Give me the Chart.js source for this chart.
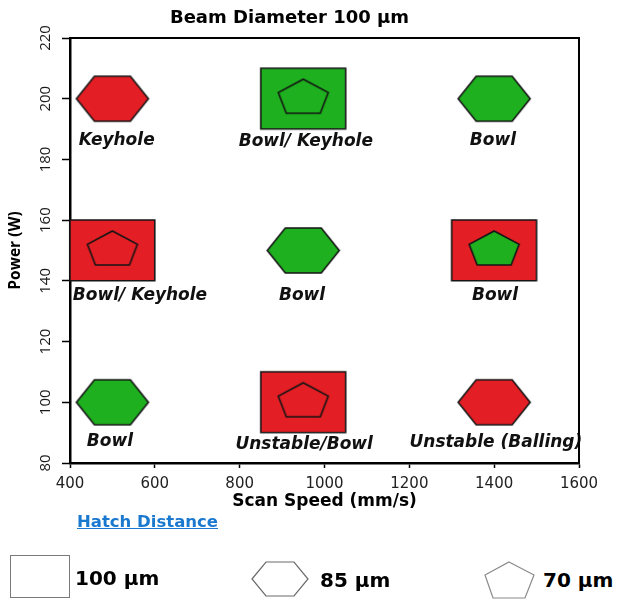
<!DOCTYPE html>
<html><head><meta charset="utf-8">
<script src="https://cdn.jsdelivr.net/npm/chart.js@4.4.0/dist/chart.umd.min.js"></script>
<style>
html,body{margin:0;padding:0;background:#fff;width:619px;height:601px;overflow:hidden;}
body{position:relative;}
#wrap{position:absolute;left:0;top:0;width:600px;height:520px;}
.leg{position:absolute;font-family:"DejaVu Sans";font-weight:bold;white-space:nowrap;line-height:1;}
svg{position:absolute;overflow:visible;}
</style></head><body>
<div id="wrap"><canvas id="c" width="600" height="520"></canvas></div>
<div class="leg" style="left:77px;top:514px;font-size:16.5px;color:#1a78cf;text-decoration:underline;">Hatch Distance</div>
<div style="position:absolute;left:10px;top:555px;width:58px;height:41px;border:1.5px solid #7a7a7a;"></div>
<div class="leg" style="left:75px;top:568px;font-size:20px;color:#000;">100 µm</div>
<svg style="left:251px;top:561px" width="58" height="37"><polygon points="1,18 15,1 43,1 57,18 43,35 15,35" fill="none" stroke="#6a6a6a" stroke-width="1.2"/></svg>
<div class="leg" style="left:320px;top:570px;font-size:20px;color:#000;">85 µm</div>
<svg style="left:484px;top:561px" width="51" height="38"><polygon points="25,1 50,14 41,37 9,37 1,14" fill="none" stroke="#8a8a8a" stroke-width="1.2"/></svg>
<div class="leg" style="left:543px;top:570px;font-size:20px;color:#000;">70 µm</div>
<script>
// ---- data ----
const xTickValues = [400, 600, 800, 1000, 1200, 1400, 1600];
const yTickValues = [80, 100, 120, 140, 160, 180, 200, 220];

// Hatch 100 µm (squares)
const squareSpeed   = [950, 500, 1400, 950];
const squarePower   = [200, 150, 150, 100];
const squareOutcome = ['good', 'bad', 'bad', 'bad'];
// Hatch 85 µm (hexagons)
const hexSpeed   = [500, 1400, 950, 500, 1400];
const hexPower   = [200, 200, 150, 100, 100];
const hexOutcome = ['bad', 'good', 'good', 'good', 'bad'];
// Hatch 70 µm (pentagons)
const pentSpeed   = [950, 500, 1400, 950];
const pentPower   = [200, 150, 150, 100];
const pentOutcome = ['good', 'bad', 'good', 'bad'];

// melt-pool regime labels
const regimeText  = ['Keyhole', 'Bowl/ Keyhole', 'Bowl', 'Bowl/ Keyhole', 'Bowl', 'Bowl', 'Bowl', 'Unstable/Bowl', 'Unstable (Balling)'];
const regimeSpeed = [510, 956, 1397, 565, 947, 1402, 494, 952, 1404];
const regimePower = [186.3, 185.8, 186.3, 135.3, 135.3, 135.3, 86.9, 86.2, 86.6];

// ---- styling ----
const COLORS = { good: '#1eb01e', bad: '#e31e24' };
const SQUARE_HALF_SPEED = 100, SQUARE_HALF_POWER = 10;
const cache = {};
function shape(kind, fill, w, h) {
  const key = kind + fill + Math.round(w) + 'x' + Math.round(h);
  if (cache[key]) return cache[key];
  const pad = 2;
  const extraBottom = kind === 'pent' ? 5 : 0;
  const cv = document.createElement('canvas');
  cv.width = Math.round(w + 2 * pad);
  cv.height = Math.round(h + 2 * pad + extraBottom);
  const c = cv.getContext('2d');
  c.translate(pad, pad);
  c.beginPath();
  if (kind === 'rect') {
    c.rect(0, 0, w, h);
  } else if (kind === 'hex') {
    const d = w * 0.25;
    c.moveTo(0, h / 2); c.lineTo(d, 0); c.lineTo(w - d, 0); c.lineTo(w, h / 2); c.lineTo(w - d, h); c.lineTo(d, h);
  } else {
    c.moveTo(w / 2, 0); c.lineTo(w, h * 0.39); c.lineTo(w * 0.84, h); c.lineTo(w * 0.16, h); c.lineTo(0, h * 0.39);
  }
  c.closePath();
  c.fillStyle = fill; c.fill();
  c.lineWidth = 1.6; c.strokeStyle = '#151515'; c.lineJoin = 'miter'; c.stroke();
  cache[key] = cv;
  return cv;
}
function pts(xs, ys) { return xs.map((x, i) => ({ x, y: ys[i] })); }

const regimeLabelPlugin = {
  id: 'regimeLabels',
  afterDatasetsDraw(chart) {
    const { ctx, scales: { x, y } } = chart;
    ctx.save();
    ctx.font = 'italic bold 17px "DejaVu Sans"';
    ctx.fillStyle = '#111';
    ctx.textAlign = 'center';
    ctx.textBaseline = 'middle';
    regimeText.forEach((t, i) => ctx.fillText(t, x.getPixelForValue(regimeSpeed[i]), y.getPixelForValue(regimePower[i])));
    ctx.restore();
  }
};
const framePlugin = {
  id: 'frame',
  afterDraw(chart) {
    const { ctx, chartArea: a } = chart;
    ctx.save();
    ctx.strokeStyle = '#000';
    ctx.lineWidth = 2;
    ctx.beginPath();
    ctx.moveTo(a.left, a.top); ctx.lineTo(a.right, a.top); ctx.lineTo(a.right, a.bottom);
    ctx.stroke();
    ctx.restore();
  }
};

new Chart(document.getElementById('c'), {
  type: 'scatter',
  data: {
    datasets: [
      {
        label: '100 µm', order: 3, clip: false,
        data: pts(squareSpeed, squarePower),
        pointRadius: 5, pointHoverRadius: 5,
        pointStyle: (ctx) => {
          const sx = ctx.chart.scales.x, sy = ctx.chart.scales.y;
          const v = ctx.raw || { x: 950, y: 150 };
          const w = Math.abs(sx.getPixelForValue(v.x + SQUARE_HALF_SPEED) - sx.getPixelForValue(v.x - SQUARE_HALF_SPEED));
          const h = Math.abs(sy.getPixelForValue(v.y + SQUARE_HALF_POWER) - sy.getPixelForValue(v.y - SQUARE_HALF_POWER));
          return shape('rect', COLORS[squareOutcome[ctx.dataIndex]], w, h);
        }
      },
      {
        label: '85 µm', order: 2, clip: false,
        data: pts(hexSpeed, hexPower),
        pointRadius: 5, pointHoverRadius: 5,
        pointStyle: (ctx) => shape('hex', COLORS[hexOutcome[ctx.dataIndex]], 72, 45)
      },
      {
        label: '70 µm', order: 1, clip: false,
        data: pts(pentSpeed, pentPower),
        pointRadius: 5, pointHoverRadius: 5,
        pointStyle: (ctx) => shape('pent', COLORS[pentOutcome[ctx.dataIndex]], 50, 34)
      }
    ]
  },
  options: {
    responsive: false,
    animation: false,
    events: [],
    layout: { padding: { left: 0, right: 21, top: 0, bottom: 8 } },
    plugins: {
      legend: { display: false },
      tooltip: { enabled: false },
      title: {
        display: true,
        text: 'Beam Diameter 100 µm',
        color: '#000',
        font: { family: 'DejaVu Sans', size: 18, weight: 'bold', lineHeight: 1.2 },
        padding: { top: 8, bottom: 8.4 }
      }
    },
    scales: {
      x: {
        type: 'linear', min: 400, max: 1600,
        afterBuildTicks: (s) => { s.ticks = xTickValues.map(v => ({ value: v })); },
        afterFit: (s) => { s.height = 49; s.paddingLeft = 0; s.paddingRight = 0; },
        ticks: { color: '#222', font: { family: 'DejaVu Sans', size: 15 }, padding: 7, maxRotation: 0, minRotation: 0, callback: (v) => String(v) },
        grid: { drawOnChartArea: false, drawTicks: true, tickLength: 5, tickColor: '#000', tickWidth: 1.5 },
        border: { display: true, color: '#000', width: 2.5 },
        title: { display: true, text: 'Scan Speed (mm/s)', color: '#000', font: { family: 'DejaVu Sans', size: 17, weight: 'bold' }, padding: { top: 0, bottom: 0 } }
      },
      y: {
        type: 'linear', min: 80, max: 220,
        afterBuildTicks: (s) => { s.ticks = yTickValues.map(v => ({ value: v })); },
        afterFit: (s) => { s.width = 70; },
        ticks: { color: '#1a1a1a', font: { family: 'Open Sans', size: 15 }, padding: 3, minRotation: 90, maxRotation: 90, crossAlign: 'center', callback: (v) => String(v) },
        grid: { drawOnChartArea: false, drawTicks: true, tickLength: 8, tickColor: '#000', tickWidth: 1.5 },
        border: { display: true, color: '#000', width: 2.5 },
        title: { display: true, text: 'Power (W)', color: '#000', font: { family: 'Open Sans', size: 15.5, weight: 'bold' }, padding: { top: 6, bottom: 0 } }
      }
    }
  },
  plugins: [regimeLabelPlugin, framePlugin]
});
</script>
</body></html>
